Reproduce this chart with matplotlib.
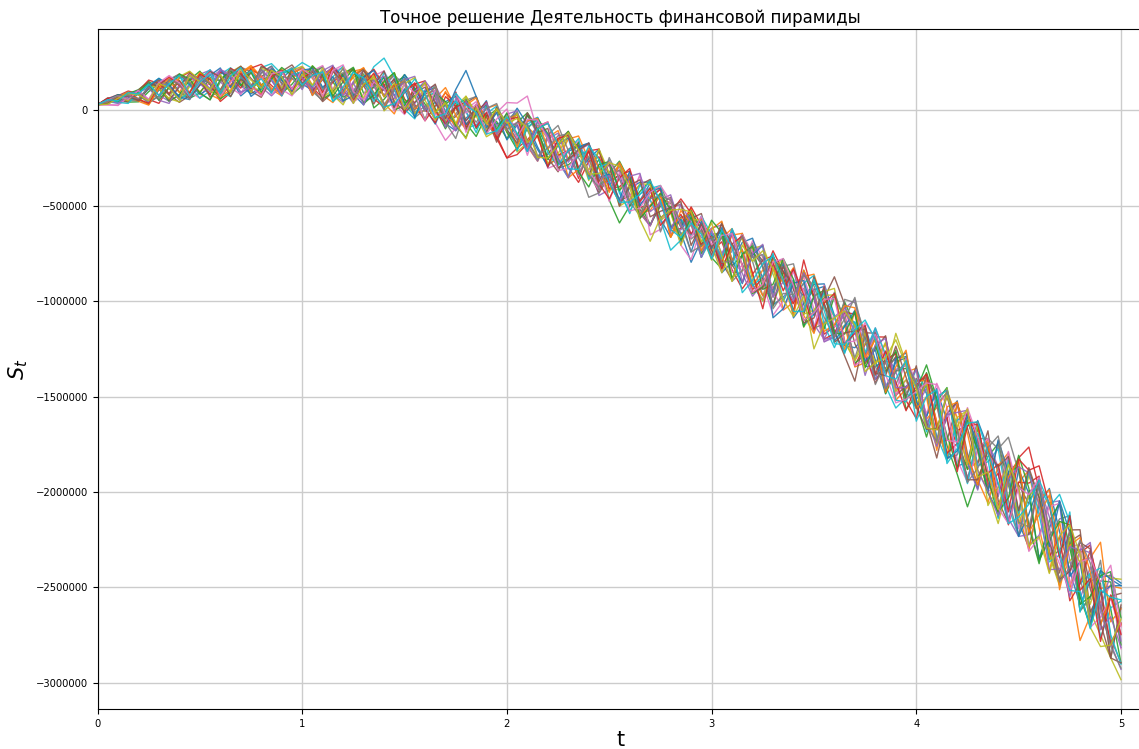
import numpy as np
import matplotlib
matplotlib.use('Agg')
import matplotlib.pyplot as plt
from matplotlib.ticker import ScalarFormatter

# --- данные, шаг по времени 0.05 ---
t = np.linspace(0, 5, 101)

# средняя линия пучка, тыс.
trend_k = [30, 42, 53, 64, 75, 85, 94, 102, 110, 118, 125, 130, 135, 140, 144, 148,
           150, 151, 151, 151, 150, 146, 141, 136, 131, 125, 117, 108, 99, 90, 80,
           64, 47, 30, 12, -5, -20, -35, -50, -65, -80, -103, -127, -151, -175, -200,
           -231, -262, -293, -324, -355, -387, -419, -451, -483, -515, -550, -585, -620,
           -655, -690, -722, -754, -786, -818, -850, -884, -918, -952, -986, -1020,
           -1064, -1108, -1152, -1196, -1240, -1288, -1336, -1384, -1432, -1480,
           -1536, -1592, -1648, -1704, -1760, -1814, -1868, -1922, -1976, -2030,
           -2088, -2146, -2204, -2262, -2320, -2400, -2480, -2560, -2640, -2720]

# отклонения траекторий от средней линии, в единицах DEV_UNIT
DEV_UNIT = 1350.0
dev = [
    [0,
     8, 15, -4, -12, 20, 42, 10, -25, -38, 5, 30, 55, 18, -10, -45, -20, 35, 12, 48, -8,
     -30, 15, 62, 40, -12, -55, -20, 8, 45, 70, 25, -38, 10, -60, -75, -15, 30, 52, -5, 20,
     65, 18, -40, -85, -30, 12, 55, 90, 20, -25, 40, -60, -15, 75, 30, -45, -40, -130, -20, 35,
     -70, 15, 95, 50, -20, -100, -45, 30, 10, 80, 115, 25, -60, -35, 40, -90, -10, 65, 105, -30,
     -50, 90, 20, -120, -60, 140, 75, -30, 10, -95, -150, 60, 165, 40, -70, -140, 10, 85, 150, 180],
    [0,
     -6, 10, 22, 5, -30, -15, 40, 60, 25, -20, 12, -48, -5, 35, 58, 20, -30, -55, 10, 45,
     20, -45, -70, -10, 35, 75, 40, -20, 55, -15, -60, -35, 25, 80, 15, -50, 5, 45, 70, -25,
     -55, 30, 10, -80, -40, 60, 95, 25, -35, 15, 70, -20, -65, -90, 35, 50, -10, 80, -45, 20,
     40, 100, -25, -75, 10, 60, -95, -40, 85, 120, 30, -55, 20, -110, -60, 70, 15, -85, 45, 95,
     -60, 25, 130, 70, -90, -20, 110, -130, -40, 60, 150, -30, -160, 80, -110, -280, -125, 40, 110, 160],
    [0,
     12, 4, -15, -22, 10, 35, 50, -10, -40, -25, 30, 15, 60, -5, -35, 20, 45, 8, -50, -15,
     40, 65, 10, -45, -20, 55, -70, -30, 25, 80, 35, -10, -55, 15, 60, -35, -75, 20, 5, -50,
     30, 85, 45, -20, -75, -40, 15, 60, -55, 20, 90, 35, -30, -85, 10, 50, -15, 70, 25, -60,
     -80, 20, 100, 45, -35, -105, 55, 15, -60, 95, 30, -20, 110, 50, -75, -40, 20, 85, -100, -10,
     120, 50, -80, -150, -235, -80, 40, 130, 20, -60, 145, 90, -110, -30, 60, -165, -50, 110, 20, -130],
    [0,
     5, 18, 28, 10, -20, -42, 15, 55, 30, 45, 5, -65, -35, 10, 50, 25, -15, -50, 20, 38,
     -20, -55, 10, 45, 70, 20, -35, -60, 15, 50, -25, -75, -5, 60, 30, -40, 25, 65, -50, -125,
     -70, -20, 45, 80, 15, -50, -85, 20, 60, -10, 35, 75, -40, -15, 55, -60, -25, 85, 40, -35,
     25, -60, -110, -30, 50, 90, 15, -45, 100, 35, -80, -20, 65, -105, 10, 75, 110, -55, -15, 45,
     100, -40, -135, 20, 80, 135, -60, -110, 30, 155, 240, 120, -30, -150, -70, 60, 150, -20, -110, 20],
    [0,
     -4, 8, 20, 14, 35, -10, -40, -22, 15, 48, 60, 12, -35, 5, 40, -20, -55, -15, 25, -30,
     50, 15, -40, -65, 20, 70, 35, -15, 60, -50, -20, 45, 75, 10, -70, -25, 30, -45, 55, 5,
     -35, 50, 85, 25, -60, -20, 70, 10, -90, -45, 30, 60, -25, 15, 80, -70, -30, 45, -10, 55,
     90, 30, -50, -115, -40, 65, 100, -20, 40, -75, -100, 20, 85, 150, -30, -90, 55, 10, -60, 25,
     -90, 70, 135, -40, -120, 25, 90, -75, 120, 40, -140, -60, 110, 160, -30, -120, 65, -50, -115, -155],
    [0,
     15, -5, -14, 10, 42, 25, -15, -50, -30, 20, 55, 35, -10, 45, -35, -60, 10, 40, 65, 15,
     -25, -70, -30, 40, 65, 10, -55, 25, 75, -15, -45, 30, 55, -60, -20, 45, 80, -5, -40, 15,
     60, -25, -70, -40, 30, 90, 45, -20, -80, 10, 55, 35, -50, -90, 20, 70, -15, 40, 85, -30,
     -55, -100, 20, 75, 45, -40, 95, 10, -85, -30, 60, 175, 100, -20, -65, 30, 115, -80, -10, 55,
     40, -110, -60, 120, 70, -30, 140, -90, -140, 50, 20, 160, -80, -165, 45, 130, -20, -100, 70, 140],
    [0,
     -8, -20, 6, 18, -25, 10, 45, 30, -15, -45, 20, 58, 40, 5, -30, 25, -50, -10, 35, 60,
     15, -30, 50, 70, -10, -55, 25, 45, -40, -75, 10, 35, -70, -125, -65, 20, 60, -15, 40, 90,
     105, 150, 30, -95, -60, 20, 75, -35, -70, 15, 50, -45, 85, -125, -80, 35, 65, -20, 10, -55,
     45, -70, -20, 100, 60, -45, -95, 30, 85, -15, -110, -50, 70, 25, -35, 110, 40, -80, 15, -60,
     85, -30, -135, 60, 130, 15, -95, -40, 110, -120, 55, 150, -60, -155, 30, 90, -140, -20, 115, -75],
    [0,
     6, 14, -8, -18, 30, 50, 20, -35, 10, 45, -20, -48, 15, 62, 40, -10, -40, 28, 55, -15,
     30, 65, -25, -60, 15, 50, -35, 20, 70, 40, -55, -20, 35, -75, -10, 55, 25, -45, 60, 10,
     -40, 75, 20, -60, 35, 85, -30, -120, -80, 10, 55, -15, -70, 40, 90, 25, -50, 15, -85, 30,
     60, -30, 105, 20, -90, -40, 75, 110, -20, -105, 35, -60, 120, 140, 50, -75, 10, -40, 95, 25,
     -80, 40, 125, -35, -130, 70, 110, 110, 195, 100, -60, -160, -20, 90, 145, -40, -130, 60, -170, 85],
    [0,
     -3, 12, 22, 8, 40, 15, -30, -48, 5, 55, 30, -20, 45, 65, -10, -42, 18, 50, -35, 10,
     65, 25, -40, -75, 10, 50, -20, 35, 80, -30, -60, 15, 45, -50, 20, 70, 5, -65, -30, 40,
     -85, -30, 55, 20, -60, 75, 40, -15, 85, -45, -20, 60, -80, 25, 90, -35, -55, 45, 10, -70,
     55, -90, -40, 70, 105, 20, -60, 45, -110, -25, 85, 130, -45, -85, 15, 60, -30, 160, 80, -60,
     110, -40, -130, 70, 140, -50, -95, -180, 20, -70, 130, 60, -80, -150, -30, 70, -110, -140, -170, -195],
    [0,
     2, -10, 15, 22, -30, -15, 35, 50, 10, -45, -20, 40, 62, 20, -25, 55, 70, 30, 45, 75,
     55, -20, 30, 75, -40, 10, 90, 130, 65, -35, -70, 15, 50, -10, 40, -55, -30, 25, 65, -15,
     -60, 40, 85, 20, -50, -90, 25, 60, -15, 70, -35, -80, 10, 55, 90, -45, 15, -25, 75, 30,
     -40, 100, 25, -70, -110, 35, 80, -20, 60, 115, -45, -100, 20, 65, -30, 90, -80, -130, -55, 95,
     40, -85, -140, 60, 125, -35, 20, 110, -75, -150, 50, 135, 95, 185, 120, -60, 40, -150, 25, 110],
    [0,
     10, 18, 4, -14, -38, 10, 42, 58, 15, -30, -10, 48, 25, -50, -20, 35, 60, 5, -28, 40,
     -50, 20, 70, 35, -30, -65, 15, 55, -10, 80, 40, -25, -75, 25, 60, -40, 10, 75, -55, 5,
     85, 40, -30, -90, 15, 65, -45, 30, 90, -20, -70, 10, 55, 80, -40, -85, 20, 45, -60, 25,
     -95, -30, 70, 110, 20, -55, 90, -100, -20, 60, 105, -40, -85, 35, 80, -15, -110, 50, 100, -25,
     70, -100, 40, 135, -60, -125, 90, 20, -140, 110, 60, -150, 10, 160, 80, -95, -165, 20, 110, 170],
    [0,
     7, 20, 10, -20, -42, 15, 38, -12, 50, 25, -35, -58, 10, 40, 65, 20, -25, -45, 30, 55,
     -10, 40, -55, -25, 60, 75, 15, -45, -80, 20, 55, 30, -35, 65, -15, -60, 40, 10, -50, 25,
     60, -45, -85, 25, 70, -20, 40, 90, -55, -10, 80, 35, -65, -30, 50, -85, 15, 65, -40, 20,
     -50, 75, 105, -35, -90, 40, 10, 95, -65, -110, 55, 20, -75, 110, 60, -30, 85, -100, -20, 45,
     90, -30, -120, 125, 50, -90, -140, 45, 135, -60, -160, 80, 160, -40, -130, 30, 100, 220, -30, 80],
    [0,
     9, -6, 18, 25, 50, 15, -40, -20, 32, 60, 5, -55, -30, 20, 48, -15, 35, -45, -10, 40,
     25, -60, -30, 45, 75, -20, 10, 55, -65, -40, 35, 70, -15, -80, 20, 60, -45, 15, 50, -25,
     -75, 25, 80, 40, -60, -15, 70, -30, 50, -85, -150, -60, 20, 85, -40, 35, -20, 60, -70, 15,
     70, -45, 20, -105, -55, 90, 35, -80, 110, 25, -60, 100, 45, -95, -30, 75, -110, 15, 60, -40,
     -130, 50, 145, -20, -90, 110, -40, -150, 60, 120, -70, -170, 40, 150, 20, -110, -165, 70, 125, -60],
    [0,
     15, 22, 5, 20, 55, 35, -10, 45, 62, 20, -35, 50, 25, -20, 55, 68, 30, -45, 40, 15,
     -40, 35, 65, -20, -60, 40, 80, 25, -55, 10, 60, -30, -70, 45, 20, -50, 15, 70, -60, -125,
     -95, -35, 50, 85, -25, 15, -70, 60, 90, -40, -10, 55, -85, 20, 75, -50, 30, -20, 65, 10,
     -60, 85, 40, -90, -20, 110, 55, -75, 150, 30, -100, -45, 70, 95, -30, -105, 20, 80, -65, -100,
     110, 40, -110, -30, 130, 70, -80, 15, -145, 60, 100, 170, -100, 20, -185, -60, 130, 40, -120, 25],
    [0,
     -6, 10, -8, 16, 25, -30, -48, 20, 45, 10, -25, 55, 30, -40, -15, 50, 5, -55, 35, 20,
     -45, 30, 70, -15, -65, 40, 15, -50, -20, 60, 85, -35, 25, -75, 50, 10, -40, 65, -15, 45,
     75, -40, -85, 20, 60, -30, 45, 90, -50, -15, 70, 25, -65, -90, 35, 80, -20, 50, -60, 10,
     -30, 95, 40, -70, -105, 55, 20, 85, -45, 30, -110, -60, 90, 45, -35, 105, -80, 20, 70, -55,
     60, -100, 25, 130, -65, -130, 95, 40, -120, -150, -100, 135, 55, -60, -170, 75, 120, -40, 160, -45],
    [0,
     18, 6, -10, 24, 45, 20, -35, 10, 58, 30, -45, -20, 40, 65, 15, -30, 50, -5, -40, 28,
     60, 20, -50, -25, 45, 75, -35, 10, 55, -70, -15, 35, 80, -40, 20, -60, 50, 15, -75, 30,
     -25, 80, 35, -55, -90, 20, 60, -40, 85, 10, -65, -20, 45, 90, -35, 15, -80, 55, 25, -50,
     100, -40, -85, 60, 25, -100, 75, 15, -60, 110, 40, -35, -100, -165, 55, 90, -25, 70, -50, 105,
     -70, -170, 45, 130, -30, -110, 80, -155, 60, 140, -100, 165, -20, -120, 90, 150, -110, 30, -170, 95],
    [0,
     -10, -18, 5, 20, -20, 35, 50, 15, -40, 25, 60, 30, -15, -45, 40, 10, 55, -30, -55, 5,
     45, 70, -20, 30, -60, -25, 55, 80, 10, -50, 25, 65, -40, -15, 75, -70, 20, 40, -35, -10,
     30, -80, 50, 85, -35, 15, -60, 70, 20, -90, 45, -25, 80, 10, -55, 60, -90, -120, 35, -15,
     -90, 20, 100, 55, -40, -140, -60, 80, 30, -95, 110, -20, 60, -105, -45, 85, 25, -70, 100, 40,
     -40, 120, 70, -95, -140, 30, 110, -60, 140, 20, -165, -70, 95, 150, -125, 60, -170, -70, 60, -15],
    [0,
     4, 16, 24, 6, -35, -12, 45, 60, 20, -25, -55, 10, 48, 25, -40, 35, 60, -10, 30, 55,
     -35, -65, 20, 50, -25, 75, 30, -50, 10, 65, -75, -30, 45, 15, -60, 55, 80, -20, -45, 25,
     70, -25, -80, 35, 90, 15, -55, 40, -70, 25, 85, -45, -15, 60, -90, 30, 70, -40, 20, -65,
     45, -105, -40, 90, 20, -70, 100, -25, 60, -90, -40, 115, 35, -75, 80, -110, 15, 55, -30, -60,
     105, 40, -130, -75, 110, 55, -90, 140, -50, -145, 70, 125, -40, -155, 85, -165, -60, 150, -95, -130],
    [0,
     -2, 14, -10, 20, 38, 15, -30, 50, 65, 25, -20, -48, 35, 10, -40, 55, 30, -25, 45, 60,
     20, -55, -20, 70, 35, -40, 60, -75, -30, 45, 80, 5, -60, 25, -50, 70, 15, -35, 55, -20,
     65, -30, 15, -75, -20, 80, 40, -55, 90, 20, -85, -35, 50, 70, -45, 10, -90, 35, 60, -15,
     -95, 30, 85, -50, -110, 45, 100, 25, -60, -20, 70, 105, -40, -85, 55, -30, 90, -65, 15, -45,
     80, -120, 140, 30, -70, 125, -150, -40, 95, -100, 50, 130, -95, -170, 60, 20, -80, 110, 140, 195],
    [0,
     10, -8, -20, 14, 35, 55, 10, -40, -15, 30, 62, -25, -50, 20, 45, -30, 15, -55, 25, 40,
     -15, 50, -65, -30, 60, 25, -45, 75, 15, -55, -80, 35, 70, -20, 40, 10, -60, 55, -35, 20,
     -80, 30, 75, -35, -65, 15, 85, -50, 20, 60, -25, -90, 45, 10, -40, -135, -70, 50, -85, 15,
     -40, 95, 30, -75, -15, 100, -60, 50, -105, -35, 80, 20, -90, 65, -20, 110, 40, -100, -70, 50,
     -110, 65, 135, -40, -145, 90, 30, -160, 105, -60, 145, 20, -120, -50, 160, -170, 40, 120, -80, -135],
    [0,
     12, 22, 6, -14, 30, 55, 25, -30, -45, 10, 40, 65, -15, 35, -55, -25, 50, 20, -35, 45,
     55, -15, 30, -60, -35, 45, 75, 10, -50, 25, -75, 40, 65, -20, 85, 170, 80, -30, 40, -55,
     20, -65, 70, 35, -40, -85, 50, 90, -20, 15, -60, 75, -35, 45, 80, -50, 10, -90, 55, -25,
     80, -20, -90, 45, 105, -150, -90, 35, 70, -40, 95, -75, 15, 110, -55, 25, -100, 60, 120, -35,
     -50, 100, -130, -60, 120, 40, -100, 145, 60, -150, -20, 135, -60, 155, -90, 25, -160, 110, 135, 170],
    [0,
     3, 12, 24, -10, -40, 20, 48, 35, -20, 55, 10, -45, -25, 40, 60, -15, 25, -50, 35, 50,
     -50, 20, 65, -35, 45, 80, -15, -65, 30, 55, -40, 10, 70, -25, -55, 35, 75, -10, -45, 25,
     -65, 55, 80, -20, 40, -90, -35, 70, 15, -55, 85, 30, -75, -10, 60, -85, 45, 20, -60, 50,
     105, -25, 40, -100, -45, 80, 20, -90, 110, 55, -70, -10, 95, 120, -40, 65, -105, 30, 130, -60,
     25, -140, 70, 130, -45, -110, 95, -135, 40, 150, -90, 20, 140, -185, 30, 120, 45, -100, 70, 15],
    [0,
     8, 20, -5, 18, 42, -30, 15, 60, 35, -25, -55, 20, 50, -10, 38, -40, 10, 55, 25, -20,
     65, 30, -45, 15, 70, -60, -20, 40, 80, -30, 10, -70, 45, 25, -55, -90, 20, 60, -25, 50,
     -20, 75, 40, -60, 15, 90, -45, -80, 30, 65, -25, 50, -85, -15, 60, 20, -70, 45, -40, 85,
     60, -95, 25, 80, -65, -20, 105, 50, -110, 35, 90, -45, -15, 105, -80, 40, -30, 95, -60, 10,
     150, 60, -40, -125, 100, 25, -100, -135, -40, 165, 80, -155, -35, 80, 110, -140, -50, 90, 165, 45],
    [0,
     16, 2, 20, -12, -35, 30, 55, 15, -20, 48, 25, -40, 60, 35, -15, -50, 20, 45, -30, 12,
     45, -35, 70, 20, -50, 10, 65, -20, 35, -70, 55, 80, -25, -60, 15, 50, -40, 30, -65, 20,
     50, -60, 15, -90, 40, 75, -30, 60, -45, -80, 25, 85, -20, 55, -65, 10, 90, 60, -35, 20,
     -80, 40, 95, -25, -140, 65, -20, 90, 15, -95, 40, 110, -50, 20, 85, -70, 55, -30, -105, 30,
     115, -60, 30, -140, 80, 125, -25, 50, -95, 150, 150, 210, 100, -60, 145, -85, 20, -165, 75, -20],
    [0,
     7, -12, 10, 22, -28, 40, 15, -40, 52, 25, -10, 60, 30, -35, -20, 45, 5, -50, 30, 15,
     -25, 50, 75, -40, 15, -65, 35, 60, -10, -55, 25, 80, 40, -30, -75, 50, 10, 65, -45, 20,
     15, -60, 70, 30, -45, -90, 40, 85, -25, 10, -75, 55, 90, -35, 20, -60, 70, 25, -85, 45,
     -20, 80, -85, 50, 110, -70, 15, -35, 100, 55, -100, -60, 75, 30, -110, 45, 105, -50, -15, 90,
     -60, -125, 40, 90, 140, -55, -95, -150, 30, 120, 140, 60, -150, -105, 25, 70, 160, -120, -10, -70],
    [0,
     -3, 14, 8, -18, 25, 48, -15, 35, -40, 10, 55, 30, -50, 15, -25, 60, 40, -35, 50, -5,
     30, -65, 50, 15, -45, 70, 20, 80, -35, -60, 25, 55, 10, -40, 75, -25, 35, -50, 60, -15,
     -50, 85, 25, 60, -75, -20, 40, 90, -35, 55, -85, 20, 65, -55, -10, 30, 80, -65, 45, -20,
     95, 40, -15, -100, -60, 85, 55, 30, -95, -50, 105, -80, -10, 30, 70, -65, -40, 110, 25, -55,
     -100, -55, 110, 20, -130, -90, 60, 40, 120, -50, 160, 85, -30, -145, -70, 100, 135, -95, -170, -130],
    [0,
     9, 18, -5, 22, -20, 38, 60, 25, -30, 15, 50, -45, 5, 55, -15, -55, 30, 40, -30, 50,
     25, -50, 55, 80, -20, -45, 30, 10, -70, 45, 20, -75, 60, -25, 70, 5, 50, -55, 15, 65,
     -30, 60, 75, 20, -85, -55, 35, -20, -50, 65, 25, -80, -45, 40, 90, 55, -10, -35, 75, -10,
     50, 80, -20, -100, -45, 65, 105, 25, -85, -30, 55, 90, -45, -10, 95, 70, -35, -110, -60, 5,
     80, 115, -60, -25, 150, 75, -15, -120, -140, 40, 55, 165, -35, -85, -150, 25, 100, 65, 190, 10],
    [0,
     4, 18, 10, -10, 28, -25, 45, 20, -45, 40, 8, -30, 55, 25, -15, 50, -40, 20, 12, -20,
     50, -25, 15, 65, -45, 35, -10, -70, 20, 55, -35, 10, 70, -55, -105, 25, -20, 45, 75, -15,
     30, 40, -65, -15, 50, 80, 10, -35, -60, 80, 20, -45, -75, 15, 50, 60, -5, -90, -40, 20,
     -55, -25, 95, 35, 70, -115, -30, -10, 90, 75, -15, -60, 45, 160, 20, -40, -90, 10, 80, 40,
     -85, -105, 135, 25, -140, -45, 75, 160, 20, -95, -70, 135, 15, -155, -55, 110, 80, -30, -125, -150],
    [0,
     -7, 8, 18, 6, -25, 35, 12, -40, 50, 20, -15, 40, -35, 55, 8, -25, 45, 18, -50, 30,
     -10, 60, -35, 30, -65, 15, 50, -20, 40, -55, 5, 75, -30, 20, -45, -95, 35, -15, 55, 10,
     45, 25, -70, -55, 15, 85, 40, -30, -5, 60, 70, 10, -90, -150, -35, 20, 50, 65, -25, 75,
     -30, -105, 60, 20, 85, 40, -55, -95, 10, -170, -40, 15, 75, 50, -95, -25, 30, 135, 70, 15,
     -95, -60, 115, 35, 145, -80, -20, -125, 90, 40, -145, -65, -165, 25, 110, 55, -170, -185, -120, 40],
    [0,
     11, -2, 22, 8, 40, -12, 28, 55, -30, 18, 45, -35, 30, 60, -20, 12, -45, 35, 50, -12,
     28, 45, -65, -5, 55, 40, -18, -60, -40, 12, 75, 30, -50, -22, 70, 35, 18, -55, -30, 35,
     -12, -65, 40, 80, 18, -55, -35, 80, 50, -18, -70, -45, 8, 85, 30, -55, -60, 22, 5, -65,
     70, 28, -125, -55, 35, 90, 18, -75, -50, 100, 12, -85, -55, 35, 105, 65, -40, -18, 90, -110,
     28, 95, -150, -50, 90, 135, 55, -22, -140, -75, 18, 155, 105, -40, -145, -90, -175, 35, 65, 115],
]

title = 'Точное решение Деятельность финансовой пирамиды'

# --- рисунок ---
W, H = 1139, 749
fig = plt.figure(figsize=(W / 100, H / 100), dpi=100)
ax = fig.add_axes([97.5 / W, 40 / H, 1046 / W, 680 / H])

trend = np.array(trend_k, dtype=float) * 1000.0
for i, d in enumerate(dev):
    n = min(len(d), len(t))
    if len(d) != len(t):
        print(f'series {i}: {len(d)} points')
    s = trend[:n] + np.array(d[:n], dtype=float) * DEV_UNIT
    ax.plot(t[:n], s, lw=1.0, alpha=0.9)

ax.set_xlim(0, 5.11)
ax.set_ylim(-3137000, 427000)
ax.grid(True, color='#cccccc', lw=1.0)
ax.set_axisbelow(True)

fmt = ScalarFormatter(useOffset=False)
fmt.set_scientific(False)
ax.yaxis.set_major_formatter(fmt)
ax.tick_params(labelsize=7.2)

ax.set_title(title, fontsize=12, pad=4)
ax.set_xlabel('t', fontsize=15, labelpad=1)
ax.set_ylabel('$S_t$', fontsize=15)

fig.savefig('out.png', dpi=100)
